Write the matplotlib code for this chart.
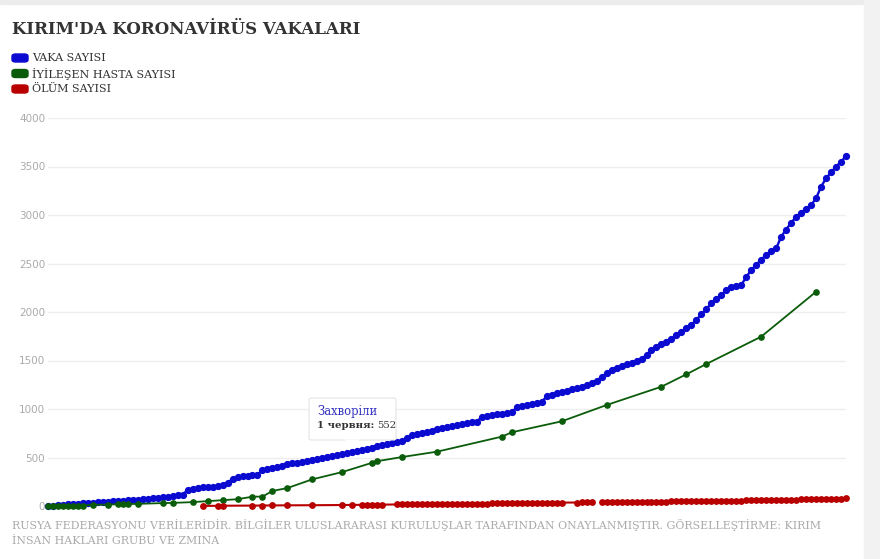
import numpy as np
import matplotlib.pyplot as plt
from matplotlib.patches import FancyBboxPatch, Polygon, Rectangle

W, H = 880, 559

title = "KIRIM'DA KORONAVİRÜS VAKALARI"
legend_labels = ["VAKA SAYISI", "İYİLEŞEN HASTA SAYISI", "ÖLÜM SAYISI"]
colors = ["#0a0ad0", "#0a5c0a", "#b80000"]
footer = ["RUSYA FEDERASYONU VERİLERİDİR. BİLGİLER ULUSLARARASI KURULUŞLAR TARAFINDAN ONAYLANMIŞTIR. GÖRSELLEŞTİRME: KIRIM",
          "İNSAN HAKLARI GRUBU VE ZMINA"]
yticks = [0, 500, 1000, 1500, 2000, 2500, 3000, 3500, 4000]

# cases, one value per row
cases = [1, 3, 9, 14, 18, 21, 23, 26, 29, 33, 38, 42, 45, 48, 51, 54, 58, 62, 65, 70,
         75, 80, 85, 90, 95, 100, 110, 118, 165, 180, 190, 195, 198, 200, 205, 215, 235, 280, 298, 305,
         312, 316, 322, 370, 382, 395, 405, 415, 428, 440, 448, 456, 465, 477, 488, 497, 505, 515, 527, 538,
         545, 552, 563, 576, 588, 600, 615, 629, 640, 650, 660, 670, 700, 732, 745, 756, 766, 778, 790, 800,
         812, 822, 833, 845, 852, 861, 870, 921, 930, 937, 944, 951, 958, 964, 1022, 1033, 1045, 1056, 1066, 1075,
         1130, 1145, 1160, 1175, 1190, 1205, 1218, 1230, 1250, 1270, 1292, 1330, 1370, 1402, 1425, 1445, 1462, 1478, 1495, 1512,
         1560, 1608, 1635, 1665, 1693, 1723, 1760, 1797, 1832, 1866, 1920, 1975, 2030, 2089, 2135, 2180, 2222, 2261, 2272, 2278,
         2360, 2433, 2485, 2540, 2588, 2625, 2656, 2776, 2850, 2920, 2982, 3025, 3065, 3103, 3172, 3292, 3378, 3440, 3498, 3550,
         3608]

# recovered: only some rows have a value
rec_idx = [0, 1, 2, 3, 4, 5, 6, 7, 9, 12, 14, 15, 16, 18, 23, 25, 29, 32, 35, 38,
           41, 43, 45, 48, 53, 59, 65, 66, 71, 78, 91, 93, 103, 112, 123, 128, 132, 143, 154]
rec_val = [1, 1, 2, 2, 3, 3, 4, 5, 12, 15, 18, 19, 20, 22, 30, 32, 40, 50, 60, 70,
           96, 97, 155, 185, 275, 350, 446, 462, 505, 560, 715, 760, 873, 1041, 1230, 1358, 1464, 1746, 2209]

# deaths: two runs, the line breaks between them
death_idx_a = [31, 34, 35, 41, 43, 45, 48, 53, 59, 61, 63, 64, 65, 66, 67] + list(range(70, 104)) + list(range(106, 110))
death_val_a = [1, 2, 3, 4, 5, 6, 7, 8, 10, 11, 12, 12, 13, 13, 14,
               16, 17, 17, 18, 18, 19, 19, 20, 20, 21, 21, 22, 22, 23, 23, 24, 24, 25, 25, 26,
               26, 27, 28, 28, 29, 29, 30, 31, 31, 32, 33, 33, 34, 35,
               36, 37, 37, 38]
death_idx_b = list(range(111, 161))
death_val_b = [40, 40, 41, 41, 42, 42, 43, 43, 44, 44, 45, 45, 46, 46, 47, 47, 48, 48, 49, 50,
               50, 51, 52, 52, 53, 54, 55, 55, 56, 57, 58, 59, 60, 61, 62, 63, 64, 65, 66, 67,
               68, 69, 70, 71, 72, 73, 74, 75, 77, 78]

tip_title = "Захворіли"
tip_label = "1 червня:"
tip_index = 61


def fx(x):
    return x / W


def fy(y):
    return 1 - y / H


fig = plt.figure(figsize=(W / 100, H / 100), dpi=100)
fig.patch.set_facecolor("white")
# grey page edges
fig.patches.append(Rectangle((0, fy(4)), 1, 4 / H, transform=fig.transFigure, color="#ececec", zorder=0))
fig.patches.append(Rectangle((fx(864), 0), 16 / W, 1, transform=fig.transFigure, color="#f2f2f2", zorder=0))

ax = fig.add_axes([fx(48), fy(506), fx(846) - fx(48), fy(118) - fy(506)])
ax.set_xlim(0, 160)
ax.set_ylim(0, 4000)
for s in ax.spines.values():
    s.set_visible(False)
ax.set_xticks([])
ax.set_yticks(yticks)
ax.set_yticklabels([str(t) for t in yticks], color="#aaaaaa", fontsize=7.5)
ax.tick_params(axis="y", length=0, pad=2)
ax.grid(axis="y", color="#eeeeee", linewidth=1)
ax.set_axisbelow(True)

x_cases = np.arange(len(cases))
ax.plot(x_cases, cases, color=colors[0], lw=1.7, marker="o", ms=4.2, clip_on=False, zorder=3)
ax.plot(rec_idx, rec_val, color=colors[1], lw=1.3, marker="o", ms=3.8, clip_on=False, zorder=3)
ax.plot(death_idx_a, death_val_a, color=colors[2], lw=1.5, marker="o", ms=3.9, clip_on=False, zorder=3)
ax.plot(death_idx_b, death_val_b, color=colors[2], lw=1.5, marker="o", ms=3.9, clip_on=False, zorder=3)

# title and legend
fig.text(fx(12), fy(30), title, fontsize=12.0, fontweight="bold", family="DejaVu Serif",
         color="#333333", va="center")
for k, lab in enumerate(legend_labels):
    yy = 58 + k * 15.5
    fig.patches.append(FancyBboxPatch((fx(12), fy(yy + 4)), 16 / W, 8 / H,
                                      boxstyle="round,pad=0,rounding_size=0.004",
                                      transform=fig.transFigure, color=colors[k]))
    fig.text(fx(32), fy(yy), lab, fontsize=8.0, family="DejaVu Serif", color="#333333", va="center")

# footer
for k, line in enumerate(footer):
    fig.text(fx(12), fy(525 + k * 16), line, fontsize=7.9, family="DejaVu Serif",
             color="#aaaaaa", va="center")

# tooltip
fig.patches.append(FancyBboxPatch((fx(309), fy(440)), 87 / W, 42 / H,
                                  boxstyle="round,pad=0,rounding_size=0.003",
                                  transform=fig.transFigure, facecolor="white",
                                  edgecolor="#e4e4e4", lw=0.8, zorder=5))
fig.patches.append(Polygon([(fx(344), fy(439.5)), (fx(360), fy(439.5)), (fx(352), fy(447))],
                           closed=True, transform=fig.transFigure, facecolor="white",
                           edgecolor="none", zorder=6))
fig.text(fx(317), fy(412), tip_title, fontsize=8.3, family="DejaVu Serif",
         color="#3030c0", va="center", zorder=7)
t = fig.text(fx(317), fy(426), tip_label, fontsize=7.3, fontweight="bold", family="DejaVu Serif",
             color="#333333", va="center", zorder=7)
fig.canvas.draw()
bb = t.get_window_extent()
fig.text(bb.x1 / W + 3 / W, fy(426), str(cases[tip_index]), fontsize=7.3, family="DejaVu Serif",
         color="#333333", va="center", zorder=7)

fig.savefig("out.png", dpi=100)
